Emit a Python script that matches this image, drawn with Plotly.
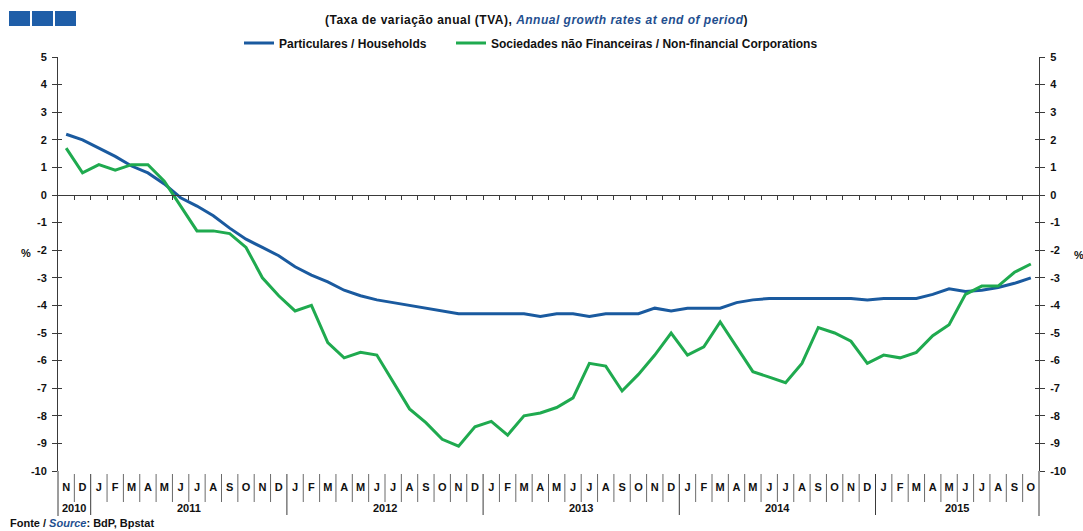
import plotly.graph_objects as go

# ---------------- data ----------------
YEAR_LABELS = ["2010", "2011", "2012", "2013", "2014", "2015"]
MONTHS_PER_YEAR = [2, 12, 12, 12, 12, 10]
MONTH_INITIALS = ["J", "F", "M", "A", "M", "J", "J", "A", "S", "O", "N", "D"]
START_MONTH_INDEX = 10  # November 2010

HOUSEHOLDS = [2.2, 2.0, 1.7, 1.4, 1.05, 0.8, 0.4, -0.1, -0.4, -0.75,
              -1.2, -1.6, -1.9, -2.2, -2.6, -2.9, -3.15, -3.45, -3.65, -3.8,
              -3.9, -4.0, -4.1, -4.2, -4.3, -4.3, -4.3, -4.3, -4.3, -4.4,
              -4.3, -4.3, -4.4, -4.3, -4.3, -4.3, -4.1, -4.2, -4.1, -4.1,
              -4.1, -3.9, -3.8, -3.75, -3.75, -3.75, -3.75, -3.75, -3.75, -3.8,
              -3.75, -3.75, -3.75, -3.6, -3.4, -3.5, -3.45, -3.35, -3.2, -3.0]

CORPORATIONS = [1.7, 0.8, 1.1, 0.9, 1.1, 1.1, 0.5, -0.4, -1.3, -1.3,
                -1.4, -1.9, -3.0, -3.65, -4.2, -4.0, -5.35, -5.9, -5.7, -5.8,
                -6.8, -7.75, -8.25, -8.85, -9.1, -8.4, -8.2, -8.7, -8.0, -7.9,
                -7.7, -7.35, -6.1, -6.2, -7.1, -6.5, -5.8, -5.0, -5.8, -5.5,
                -4.6, -5.5, -6.4, -6.6, -6.8, -6.1, -4.8, -5.0, -5.3, -6.1,
                -5.8, -5.9, -5.7, -5.1, -4.7, -3.6, -3.3, -3.3, -2.8, -2.5]

Y_TICKS = list(range(-10, 6))
Y_TICK_TEXT = [str(v) for v in Y_TICKS]
Y_RANGE = [-10, 5]

# build month labels
month_labels = []
m = START_MONTH_INDEX
for n in MONTHS_PER_YEAR:
    for _ in range(n):
        month_labels.append(MONTH_INITIALS[m % 12])
        m += 1
x_idx = list(range(len(month_labels)))

# ---------------- style ----------------
FONT = "Liberation Sans, Arial, sans-serif"
BLUE = "#1a5a9f"
GREEN = "#1faa4f"
AXIS = "#3a3a3a"
TITLE_BLUE = "#1f4f8f"

W, H = 1083, 531
PLOT_L, PLOT_R, PLOT_T, PLOT_B = 58, 1039, 57, 471   # page pixels
ML, MT = PLOT_L, PLOT_T
MR, MB = W - PLOT_R, H - PLOT_B
PW, PH = W - ML - MR, H - MT - MB


def px_x(px):
    return (px - PLOT_L) / PW


def px_y(py):
    return (PLOT_B - py) / PH


fig = go.Figure()
fig.add_trace(go.Scatter(x=x_idx, y=HOUSEHOLDS, mode="lines",
                         name="Particulares / Households", legend="legend",
                         line=dict(color=BLUE, width=3)))
fig.add_trace(go.Scatter(x=x_idx, y=CORPORATIONS, mode="lines",
                         name="Sociedades não Financeiras / Non-financial Corporations",
                         legend="legend2",
                         line=dict(color=GREEN, width=3)))
# helper traces so the extra axes are drawn
for xa, ya in [("x2", "y"), ("x", "y2"), ("x", "y3"), ("x", "y4")]:
    fig.add_trace(go.Scatter(x=[], y=[], xaxis=xa, yaxis=ya, showlegend=False,
                             hoverinfo="skip"))

tickfont = dict(family=FONT, size=11, color="#111111", weight="bold")
legfont = dict(family=FONT, size=12, color="#111111", weight="bold")

fig.update_layout(
    width=W, height=H,
    margin=dict(l=ML, r=MR, t=MT, b=MB, autoexpand=False),
    paper_bgcolor="white", plot_bgcolor="white",
    font=dict(family=FONT, size=11, color="#111111"),
    showlegend=True,
    legend=dict(orientation="h", x=px_x(239), xanchor="left",
                y=px_y(43), yanchor="middle", font=legfont,
                itemwidth=30, bgcolor="rgba(0,0,0,0)"),
    legend2=dict(orientation="h", x=px_x(451), xanchor="left",
                 y=px_y(43), yanchor="middle", font=legfont,
                 itemwidth=30, bgcolor="rgba(0,0,0,0)"),
    xaxis=dict(range=[-0.5, len(month_labels) - 0.5], tickmode="array",
               tickvals=x_idx, ticktext=month_labels, ticks="outside",
               ticklen=6, tickcolor="rgba(0,0,0,0)", showline=False,
               showgrid=False, zeroline=False, tickfont=tickfont, fixedrange=True),
    xaxis2=dict(range=[-0.5, len(month_labels) - 0.5], overlaying="x",
                anchor="free", position=(0 - Y_RANGE[0]) / (Y_RANGE[1] - Y_RANGE[0]),
                tickmode="array", tickvals=[i - 0.5 for i in x_idx[1:]] + [len(x_idx) - 0.5],
                showticklabels=False, ticks="outside", ticklen=4, tickcolor=AXIS,
                showline=True, linecolor=AXIS, linewidth=1, showgrid=False,
                zeroline=False),
    yaxis=dict(range=Y_RANGE, tickmode="array", tickvals=Y_TICKS, ticktext=Y_TICK_TEXT,
               ticks="outside", ticklen=5, tickcolor=AXIS, showline=True,
               linecolor=AXIS, linewidth=1, showgrid=False, zeroline=False,
               tickfont=tickfont, ticklabelstandoff=3),
    yaxis2=dict(range=Y_RANGE, overlaying="y", side="right", anchor="x",
                tickmode="array", tickvals=Y_TICKS, ticktext=Y_TICK_TEXT,
                ticks="outside", ticklen=5,
                tickcolor=AXIS, showline=True, linecolor=AXIS, linewidth=1,
                showgrid=False, zeroline=False, tickfont=tickfont,
                ticklabelstandoff=3),
    yaxis3=dict(range=Y_RANGE, overlaying="y", side="left", anchor="x",
                tickmode="array", tickvals=Y_TICKS, ticks="inside", ticklen=4,
                tickcolor=AXIS, showticklabels=False, showline=False,
                showgrid=False, zeroline=False),
    yaxis4=dict(range=Y_RANGE, overlaying="y", side="right", anchor="x",
                tickmode="array", tickvals=Y_TICKS, ticks="inside", ticklen=4,
                tickcolor=AXIS, showticklabels=False, showline=False,
                showgrid=False, zeroline=False),
)

shapes = []
# month / year separators under the plot
year_starts = []
acc = 0
for n in MONTHS_PER_YEAR:
    year_starts.append(acc)
    acc += n
for i in x_idx[1:]:
    is_year = i in year_starts
    shapes.append(dict(type="line", xref="x", yref="paper", x0=i - 0.5, x1=i - 0.5,
                       y0=px_y(474), y1=px_y(515 if is_year else 502),
                       line=dict(color=AXIS if is_year else "#6a6a6a", width=1)))
# vertical axis extensions under the plot
for xp in [0, 1]:
    shapes.append(dict(type="line", xref="paper", yref="paper", x0=xp, x1=xp,
                       y0=0, y1=px_y(516), line=dict(color=AXIS, width=1)))
# logo squares
for k in range(3):
    x0 = 9 + k * 23
    shapes.append(dict(type="rect", xref="paper", yref="paper",
                       x0=px_x(x0), x1=px_x(x0 + 21), y0=px_y(26), y1=px_y(11),
                       fillcolor="#1f5ea8", line=dict(width=0)))
fig.update_layout(shapes=shapes)

annotations = []
# year labels
for label, start, n in zip(YEAR_LABELS, year_starts, MONTHS_PER_YEAR):
    annotations.append(dict(x=start + (n - 1) / 2, y=px_y(508), xref="x", yref="paper",
                            text=f"<b>{label}</b>", showarrow=False,
                            font=dict(family=FONT, size=11, color="#111111"),
                            xanchor="center", yanchor="middle"))
annotations += [
    dict(x=px_x(536), y=px_y(20), xref="paper", yref="paper", showarrow=False,
         text=("<b><span style='letter-spacing:0.5px'>(Taxa de variação anual (TVA), "
               f"<i><span style='color:{TITLE_BLUE}'>Annual growth rates at end of period</span></i>)</span></b>"),
         font=dict(family=FONT, size=12, color="#111111"), xanchor="center", yanchor="middle"),
    dict(x=px_x(26), y=px_y(253), xref="paper", yref="paper", showarrow=False,
         text="<b>%</b>", font=dict(family=FONT, size=11, color="#111111"),
         xanchor="center", yanchor="middle"),
    dict(x=px_x(1072), y=px_y(255), xref="paper", yref="paper", showarrow=False,
         text="<b>%</b>", font=dict(family=FONT, size=11, color="#111111"),
         xanchor="left", yanchor="middle"),
    dict(x=px_x(8), y=px_y(523), xref="paper", yref="paper", showarrow=False,
         text=f"<b>Fonte / <i><span style='color:{TITLE_BLUE}'>Source</span></i>: BdP, Bpstat</b>",
         font=dict(family=FONT, size=11, color="#111111"), xanchor="left", yanchor="middle"),
]
fig.update_layout(annotations=annotations)

fig.write_html("out.html", config={"displayModeBar": False},
               post_script="document.body.style.margin='0';document.body.style.overflow='hidden';")
